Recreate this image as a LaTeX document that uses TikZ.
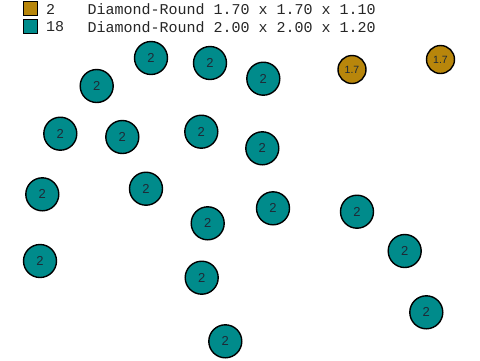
\documentclass[tikz,border=0pt]{standalone}
\usepackage{fontspec}
\setmainfont{Liberation Sans}
\newfontfamily\monof{Liberation Mono}
\definecolor{tealc}{HTML}{008B8B}
\definecolor{goldc}{HTML}{B8860B}
\definecolor{txtc}{HTML}{1E2A36}
\begin{document}
\begin{tikzpicture}[x=1pt,y=-1pt,
  big/.style={circle,draw=black,line width=1.4pt,fill=tealc,minimum size=33pt,inner sep=0pt,text=txtc,font=\fontsize{13}{13}\selectfont},
  small/.style={circle,draw=black,line width=1.4pt,fill=goldc,minimum size=28pt,inner sep=0pt,text=txtc,font=\fontsize{10.5}{10.5}\selectfont},
  legsq/.style={draw=black,line width=1.2pt,minimum size=14pt,inner sep=0pt},
  legtxt/.style={anchor=west,inner sep=0pt,text=black!85,font=\monof\fontsize{15}{15}\selectfont}]
\useasboundingbox (0,0) rectangle (480,360);
\fill[white] (0,0) rectangle (480,360);
% legend
\node[legsq,fill=goldc] (k1) at (30.5,8.5) {};
\node[legsq,fill=tealc] (k2) at (30.5,26.5) {};
\node[legtxt] (n1) at (46,9) {2};
\node[legtxt] (n2) at (46,27) {18};
\node[legtxt] (d1) at (87.5,9) {Diamond-Round 1.70 x 1.70 x 1.10};
\node[legtxt] (d2) at (87.5,27) {Diamond-Round 2.00 x 2.00 x 1.20};
% gold
\node[small] (g1) at (352,69.5) {1.7};
\node[small] (g2) at (440.5,59.5) {1.7};
% teal
\node[big] (t1) at (151,58) {2};
\node[big] (t2) at (210,63) {2};
\node[big] (t3) at (263.3,78.7) {2};
\node[big] (t4) at (96.7,86) {2};
\node[big] (t5) at (60.3,133.7) {2};
\node[big] (t6) at (122.3,137) {2};
\node[big] (t7) at (201.3,131.7) {2};
\node[big] (t8) at (262.3,148.3) {2};
\node[big] (t9) at (42.3,194.3) {2};
\node[big] (t10) at (146,188.7) {2};
\node[big] (t11) at (273,208.3) {2};
\node[big] (t12) at (207.7,223.3) {2};
\node[big] (t13) at (357,211.7) {2};
\node[big] (t14) at (40,261) {2};
\node[big] (t15) at (201.7,277.7) {2};
\node[big] (t16) at (404.7,251) {2};
\node[big] (t17) at (426.3,312.3) {2};
\node[big] (t18) at (225.3,341.3) {2};
\end{tikzpicture}
\end{document}
